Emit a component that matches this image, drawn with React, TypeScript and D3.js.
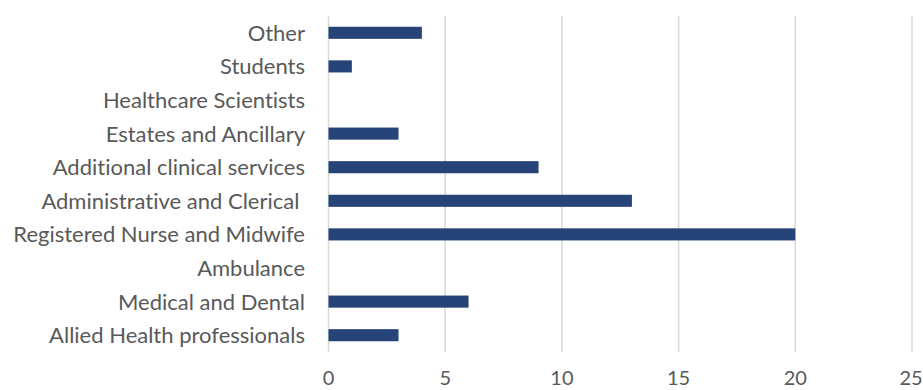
import React from "react";
import * as d3 from "d3";

const categories = [
  "Allied Health professionals",
  "Medical and Dental",
  "Ambulance",
  "Registered Nurse and Midwife",
  "Administrative and Clerical ",
  "Additional clinical services",
  "Estates and Ancillary",
  "Healthcare Scientists",
  "Students",
  "Other",
];
const values = [3, 6, 0, 20, 13, 9, 3, 0, 1, 4];
const xTicks = [0, 5, 10, 15, 20, 25];

const W = 923;
const H = 390;
const FONT = "Lato, 'Open Sans', sans-serif";

export default function App() {
  const x = d3.scaleLinear().domain([0, 25]).range([328.5, 912]);
  const y = d3
    .scaleBand<string>()
    .domain(categories.slice().reverse())
    .range([16, 352])
    .paddingInner(0.64)
    .paddingOuter(0.32);
  return (
    <svg
      width={W}
      height={H}
      style={{
        position: "absolute",
        left: 0,
        top: 0,
        background: "#fff",
        fontVariantLigatures: "none",
      }}
      fontFamily={FONT}
    >
      {xTicks.map((t) => (
        <g key={t}>
          <line x1={x(t)} x2={x(t)} y1={16} y2={352} stroke="#d9d9d9" strokeWidth={1.5} />
          <text
            x={t === 25 ? Math.min(x(t), W - 12) : x(t)}
            y={385}
            textAnchor="middle"
            fontSize={20}
            fill="#595959"
          >
            {t}
          </text>
        </g>
      ))}
      {categories.map((c, i) => (
        <g key={c}>
          {values[i] > 0 && (
            <rect
              x={x(0)}
              y={y(c)!}
              width={x(values[i]) - x(0)}
              height={y.bandwidth()}
              fill="#264478"
            />
          )}
          <text
            x={305}
            y={y(c)! + y.bandwidth() / 2}
            dy="0.36em"
            textAnchor="end"
            fontSize={22}
            fill="#595959"
            style={{ whiteSpace: "pre" }}
          >
            {c}
          </text>
        </g>
      ))}
    </svg>
  );
}
